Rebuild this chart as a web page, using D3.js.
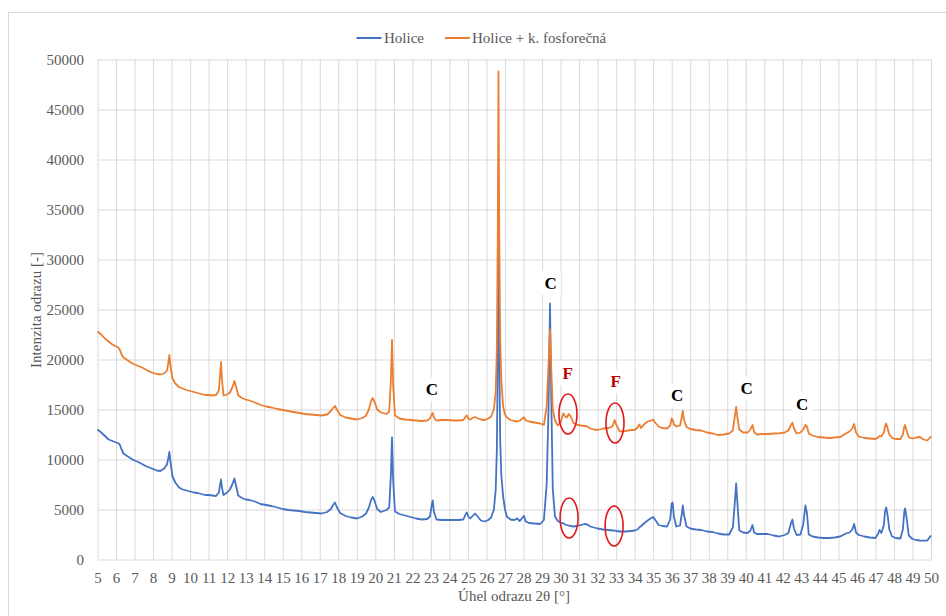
<!DOCTYPE html>
<html>
<head>
<meta charset="utf-8">
<script src="https://cdn.jsdelivr.net/npm/d3@7"></script>
<style>
  html, body { margin: 0; padding: 0; background: #fff; }
  svg { display: block; }
  text { font-family: "Liberation Serif", "Times New Roman", serif; }
</style>
</head>
<body>
<svg id="chart" width="946" height="616"></svg>
<script>
// Diffraction angle 2θ [°] shared by both patterns
const twoTheta = [
  5.0, 5.2, 5.4, 5.6, 5.8, 6.0, 6.1, 6.2, 6.3, 6.4, 6.6, 6.8, 7.0, 7.2, 7.4, 7.6, 7.8, 8.0, 8.2, 8.4,
  8.6, 8.75, 8.82, 8.88, 8.95, 9.05, 9.2, 9.4, 9.6, 9.8, 10.0, 10.2, 10.4, 10.6, 10.8, 11.0, 11.2, 11.4,
  11.55, 11.62, 11.67, 11.72, 11.8, 12.0, 12.15, 12.3, 12.39, 12.48, 12.6, 12.8, 13.0, 13.2, 13.5, 13.8,
  14.1, 14.4, 14.7, 15.0, 15.3, 15.6, 15.9, 16.2, 16.5, 16.8, 17.1, 17.4, 17.6, 17.72, 17.82, 17.92,
  18.1, 18.4, 18.7, 19.0, 19.3, 19.5, 19.65, 19.78, 19.86, 19.95, 20.1, 20.3, 20.6, 20.75, 20.84, 20.9,
  20.96, 21.06, 21.3, 21.6, 21.9, 22.2, 22.5, 22.8, 22.95, 23.05, 23.1, 23.16, 23.3, 23.6, 23.9, 24.2,
  24.5, 24.75, 24.88, 24.94, 25.02, 25.12, 25.25, 25.38, 25.5, 25.7, 25.9, 26.1, 26.25, 26.4, 26.5,
  26.56, 26.61, 26.65, 26.69, 26.74, 26.8, 26.9, 27.0, 27.1, 27.3, 27.5, 27.65, 27.8, 27.95, 28.03,
  28.12, 28.3, 28.6, 28.9, 29.1, 29.25, 29.35, 29.43, 29.5, 29.58, 29.7, 29.85, 30.0, 30.15, 30.25,
  30.33, 30.45, 30.55, 30.7, 30.9, 31.1, 31.3, 31.45, 31.6, 31.8, 32.0, 32.3, 32.6, 32.8, 32.92, 33.0,
  33.2, 33.5, 33.8, 34.0, 34.15, 34.25, 34.35, 34.5, 34.7, 34.9, 35.0, 35.1, 35.3, 35.5, 35.75, 35.92,
  36.0, 36.05, 36.12, 36.25, 36.45, 36.55, 36.6, 36.66, 36.8, 37.0, 37.3, 37.6, 37.9, 38.2, 38.5, 38.8,
  39.1, 39.3, 39.4, 39.48, 39.55, 39.65, 39.85, 40.1, 40.25, 40.36, 40.45, 40.6, 40.9, 41.2, 41.5, 41.8,
  42.1, 42.3, 42.45, 42.52, 42.6, 42.75, 42.95, 43.1, 43.22, 43.3, 43.4, 43.6, 43.9, 44.2, 44.5, 44.8,
  45.1, 45.4, 45.6, 45.75, 45.85, 45.95, 46.1, 46.4, 46.7, 47.0, 47.15, 47.22, 47.32, 47.45, 47.52,
  47.58, 47.66, 47.75, 47.9, 48.1, 48.35, 48.48, 48.56, 48.6, 48.68, 48.8, 49.0, 49.2, 49.4, 49.6,
  49.8, 50.0
];

// Intensity [-] — sample "Holice"
const holice = [
  13000, 12700, 12350, 12000, 11850, 11700, 11650, 11500, 11000, 10600, 10350, 10100, 9900, 9750, 9550, 9350, 9200, 9050, 8900, 8850,
  9100, 9500, 10100, 10750, 9600, 8300, 7700, 7200, 7000, 6900, 6800, 6700, 6650, 6550, 6450, 6450, 6400, 6350,
  6700, 7500, 8000, 7200, 6450, 6700, 7000, 7600, 8100, 7400, 6400, 6150, 6000, 5950, 5800, 5550,
  5450, 5350, 5200, 5050, 4950, 4900, 4850, 4750, 4700, 4650, 4600, 4750, 5050, 5450, 5700, 5250,
  4650, 4350, 4200, 4100, 4300, 4600, 5200, 6000, 6250, 5900, 5050, 4750, 4950, 5200, 8500, 12200,
  8000, 4800, 4550, 4400, 4250, 4100, 4000, 4050, 4300, 5500, 5900, 4800, 4000, 3950, 3950, 3950,
  3950, 4000, 4550, 4700, 4300, 4100, 4350, 4600, 4350, 3900, 3800, 3950, 4200, 5000, 7000,
  11000, 20000, 32000, 21000, 12000, 8500, 6300, 5000, 4300, 4000, 3950, 4100, 3850, 4200, 4350,
  3800, 3650, 3600, 3550, 3950, 7500, 15000, 25600, 16000, 7000, 4300, 3850, 3700, 3620, 3500,
  3450, 3380, 3350, 3300, 3350, 3450, 3550, 3500, 3300, 3200, 3100, 3000, 2950, 2900, 2900, 2850,
  2800, 2800, 2850, 2900, 3000, 3200, 3350, 3600, 3900, 4150, 4250, 4000, 3450, 3350, 3300, 4000,
  5600, 5700, 4300, 3300, 3400, 4600, 5400, 4500, 3300, 3100, 3000, 2950, 2800, 2750, 2600, 2500,
  2500, 3200, 5500, 7600, 5600, 2900, 2700, 2650, 2900, 3450, 2700, 2550, 2550, 2550, 2400, 2300,
  2450, 2650, 3700, 4000, 3100, 2450, 2500, 3500, 5400, 4700, 2500, 2300, 2200, 2150, 2150, 2200,
  2300, 2600, 2700, 3000, 3550, 2700, 2450, 2300, 2200, 2150, 2600, 2950, 2650, 3400, 4800,
  5200, 4400, 3000, 2300, 2150, 2100, 3000, 4800, 5100, 4200, 2400, 2050, 1950, 1900, 1880,
  1900, 2400
];

// Intensity [-] — sample "Holice + k. fosforečná"
const holiceFosfor = [
  22800, 22500, 22100, 21800, 21500, 21300, 21250, 21000, 20500, 20200, 19950, 19700, 19500, 19350, 19200, 19000, 18800, 18650, 18550, 18500,
  18600, 18900, 19600, 20450, 19200, 18100, 17600, 17250, 17100, 16950, 16850, 16750, 16650, 16550, 16450, 16450, 16400, 16450,
  16900, 18500, 19750, 18000, 16400, 16500, 16700, 17300, 17850, 17300, 16400, 16150, 16000, 15900, 15700, 15450,
  15300, 15200, 15050, 14950, 14850, 14750, 14650, 14550, 14500, 14450, 14400, 14500, 14850, 15150, 15350, 15000,
  14450, 14200, 14100, 14000, 14150, 14400, 15000, 15900, 16150, 15800, 15000, 14700, 14550, 14800, 18000, 21950,
  17500, 14400, 14100, 14000, 13950, 13900, 13850, 13900, 14100, 14550, 14650, 14200, 13900, 13950, 13950, 13900,
  13900, 13950, 14300, 14400, 14100, 14000, 14150, 14250, 14150, 14000, 13950, 14100, 14300, 15000, 16800,
  21000, 32000, 48800, 33000, 22000, 18000, 15300, 14500, 14200, 13950, 13850, 13800, 13900, 14100, 14220,
  13900, 13800, 13700, 13600, 13450, 15300, 19500, 23000, 19000, 15000, 13900, 13400, 13700, 14600, 14300,
  14200, 14550, 14300, 13650, 13450, 13400, 13350, 13300, 13100, 13000, 12950, 13100, 13150, 13300, 13950, 13500,
  12800, 12850, 12950, 12950, 13200, 13500, 13150, 13500, 13800, 13900, 14000, 13700, 13300, 13150, 13100, 13400,
  14100, 14000, 13500, 13300, 13400, 14300, 14850, 14000, 13250, 13050, 12950, 12900, 12700, 12600, 12450, 12500,
  12600, 12900, 14200, 15250, 14200, 13000, 12700, 12700, 13000, 13450, 12750, 12500, 12550, 12550, 12600, 12620,
  12700, 12900, 13500, 13680, 13100, 12600, 12700, 13000, 13450, 13300, 12600, 12400, 12250, 12200, 12150, 12200,
  12250, 12600, 12800, 13100, 13550, 12700, 12300, 12150, 12100, 12050, 12200, 12350, 12300, 12700, 13300,
  13600, 13100, 12500, 12150, 12050, 12050, 12500, 13300, 13450, 12900, 12200, 12100, 12200, 12250, 12000,
  11900, 12300
];

const seriesNames = ["Holice", "Holice + k. fosforečná"];
const seriesColors = ["#4472C4", "#ED7D31"];

const xTickValues = [5, 6, 7, 8, 9, 10, 11, 12, 13, 14, 15, 16, 17, 18, 19, 20, 21, 22, 23, 24, 25, 26, 27,
  28, 29, 30, 31, 32, 33, 34, 35, 36, 37, 38, 39, 40, 41, 42, 43, 44, 45, 46, 47, 48, 49, 50];
const yTickValues = [0, 5000, 10000, 15000, 20000, 25000, 30000, 35000, 40000, 45000, 50000];

// Phase labels: C (calcite), F (phosphate) — positioned in data units
const phaseLabels = [
  { text: "C", angle: 23.05, intensity: 17050, color: "#000000" },
  { text: "C", angle: 29.47, intensity: 27650, color: "#000000" },
  { text: "F", angle: 30.39, intensity: 18650, color: "#C00000" },
  { text: "F", angle: 32.98, intensity: 17850, color: "#C00000" },
  { text: "C", angle: 36.29, intensity: 16450, color: "#000000" },
  { text: "C", angle: 40.05, intensity: 17120, color: "#000000" },
  { text: "C", angle: 43.04, intensity: 15600, color: "#000000" }
];
// Highlight rings around phosphate reflections (centres in data units)
const phaseRings = [
  { angle: 30.40, intensity: 14550 },
  { angle: 30.46, intensity: 4150 },
  { angle: 32.94, intensity: 13650 },
  { angle: 32.89, intensity: 3350 }
];

const svg = d3.select("#chart");
const W = 946, H = 616;
const plot = { left: 97.5, right: 931, top: 59.5, bottom: 559.5 };
const gridColor = "#d9d9d9";
const textColor = "#595959";

svg.append("rect").attr("width", W).attr("height", H).attr("fill", "#fff");
// chart frame
svg.append("rect")
  .attr("x", 8.5).attr("y", 12.5).attr("width", W + 20).attr("height", H + 20)
  .attr("fill", "none").attr("stroke", gridColor).attr("stroke-width", 1);

const x = d3.scaleLinear().domain([5, 50]).range([plot.left, plot.right]);
const y = d3.scaleLinear().domain([0, 50000]).range([plot.bottom, plot.top]);

// Y axis + horizontal gridlines
const yAxis = svg.append("g")
  .attr("transform", `translate(${plot.left},0)`)
  .call(d3.axisLeft(y).tickValues(yTickValues).tickFormat(d3.format("d"))
    .tickSize(-(plot.right - plot.left)).tickPadding(13.5));
yAxis.select(".domain").remove();
yAxis.selectAll("line").attr("stroke", gridColor);
yAxis.selectAll("text").attr("fill", textColor).style("font-size", "15px")
  .style("font-family", "'Liberation Serif', 'Times New Roman', serif");

// X axis + vertical gridlines
const xAxis = svg.append("g")
  .attr("transform", `translate(0,${plot.bottom})`)
  .call(d3.axisBottom(x).tickValues(xTickValues).tickFormat(d3.format("d"))
    .tickSize(-(plot.bottom - plot.top)).tickPadding(12.5));
xAxis.select(".domain").remove();
xAxis.selectAll("line").attr("stroke", gridColor);
xAxis.selectAll("text").attr("fill", textColor).style("font-size", "15px")
  .style("font-family", "'Liberation Serif', 'Times New Roman', serif");

// Axis titles
svg.append("text")
  .attr("x", 514).attr("y", 601)
  .attr("text-anchor", "middle").attr("fill", textColor).style("font-size", "15px")
  .text("Úhel odrazu 2θ [°]");
svg.append("text")
  .attr("transform", "translate(41,310) rotate(-90)")
  .attr("text-anchor", "middle").attr("fill", textColor).style("font-size", "15px")
  .text("Intenzita  odrazu [-]");

// Series lines
const line = d3.line()
  .x((d, i) => x(twoTheta[i]))
  .y(d => y(d));
[holice, holiceFosfor].forEach((vals, k) => {
  svg.append("path")
    .datum(vals)
    .attr("d", line)
    .attr("fill", "none")
    .attr("stroke", seriesColors[k])
    .attr("stroke-width", 1.8)
    .attr("stroke-linejoin", "round");
});

// Legend
const legend = svg.append("g");
const legendItems = [
  { x0: 356.5, tx: 384 },
  { x0: 445, tx: 472 }
];
legendItems.forEach((it, k) => {
  legend.append("line")
    .attr("x1", it.x0).attr("x2", it.x0 + 25).attr("y1", 38).attr("y2", 38)
    .attr("stroke", seriesColors[k]).attr("stroke-width", 2);
  legend.append("text")
    .attr("x", it.tx).attr("y", 43)
    .attr("fill", textColor).style("font-size", "15px")
    .text(seriesNames[k]);
});

// Phase rings
svg.selectAll("ellipse.ring")
  .data(phaseRings)
  .join("ellipse")
  .attr("class", "ring")
  .attr("cx", d => x(d.angle))
  .attr("cy", d => y(d.intensity))
  .attr("rx", 9).attr("ry", 20)
  .attr("fill", "none")
  .attr("stroke", "#E0191E")
  .attr("stroke-width", 1.6);

// Phase labels on white boxes
const labels = svg.selectAll("g.phase")
  .data(phaseLabels)
  .join("g")
  .attr("class", "phase")
  .attr("transform", d => `translate(${x(d.angle)},${y(d.intensity)})`);
labels.append("rect")
  .attr("x", -10).attr("y", -12).attr("width", 20).attr("height", 24)
  .attr("fill", "#fff");
labels.append("text")
  .attr("text-anchor", "middle")
  .attr("dy", "0.36em")
  .attr("fill", d => d.color)
  .style("font-size", "17px")
  .style("font-weight", "bold")
  .text(d => d.text);
</script>
</body>
</html>
